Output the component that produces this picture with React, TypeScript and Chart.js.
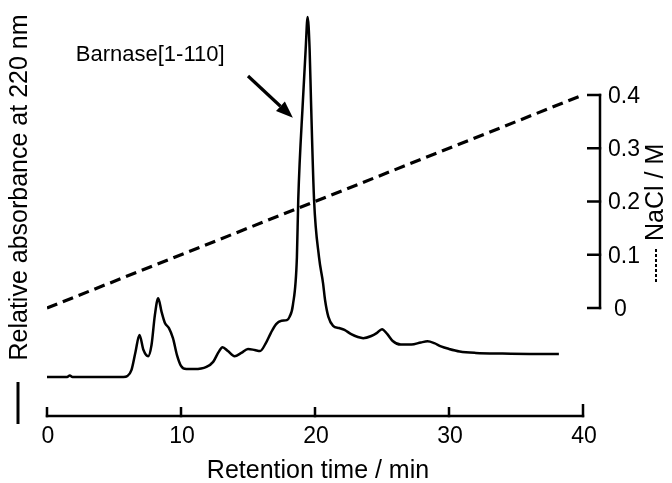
import React, { useEffect, useRef } from "react";
import { Chart, registerables } from "chart.js";

Chart.register(...registerables);

// Chromatogram (retention time in min, relative absorbance, baseline = 0, main apex = 1)
const retentionTime = [
  0, 1.5, 1.7, 1.9, 5.7, 6.0, 6.3, 6.6, 6.9, 7.2, 7.55, 7.8, 8.05, 8.3, 8.55, 8.8, 9.1, 9.4, 9.7,
  10.0, 10.4, 11.0, 11.9, 12.4, 12.8, 13.1, 13.5, 14.0, 14.5, 15.0, 15.5, 15.9, 16.3, 16.7, 17.1,
  17.5, 17.9, 18.1, 18.35, 18.65, 18.75, 19.1, 19.3, 19.45, 19.6, 19.7, 19.93, 20.3, 20.6, 20.75,
  21.0, 21.35, 21.8, 22.2, 22.7, 23.2, 23.6, 24.2, 24.6, 25.0, 25.4, 25.8, 26.4, 27.2, 27.9, 28.4,
  28.9, 29.4, 30.0, 30.8, 32.0, 34.0, 36.0, 38.2,
];
const absorbance = [
  0, 0, 0.004, 0, 0, 0.003, 0.019, 0.069, 0.117, 0.075, 0.058, 0.089, 0.172, 0.219, 0.181, 0.15,
  0.136, 0.108, 0.061, 0.031, 0.022, 0.022, 0.028, 0.042, 0.069, 0.083, 0.072, 0.058, 0.067, 0.078,
  0.075, 0.072, 0.092, 0.122, 0.147, 0.156, 0.158, 0.167, 0.2, 0.333, 0.492, 0.769, 0.908, 1.0,
  0.908, 0.769, 0.492, 0.333, 0.261, 0.214, 0.167, 0.142, 0.136, 0.131, 0.119, 0.111, 0.108, 0.114,
  0.122, 0.133, 0.119, 0.1, 0.09, 0.09, 0.096, 0.099, 0.094, 0.085, 0.078, 0.071, 0.067, 0.065,
  0.064, 0.064,
];

// NaCl gradient
const gradientTime = [0, 40];
const naclConc = [0, 0.4];

// Axis ticks and texts
const xTicks = [0, 10, 20, 30, 40];
const xTickLabels = ["0", "10", "20", "30", "40"];
const naclTicks = [0, 0.1, 0.2, 0.3, 0.4];
const naclTickLabels = ["0", "0.1", "0.2", "0.3", "0.4"];
const xTitle = "Retention time / min";
const yTitle = "Relative absorbance at 220 nm";
const y1Title = "NaCl / M";
const peakLabel = "Barnase[1-110]";
// annotation anchors in data units (time, absorbance)
const labelAnchor = [2.15, 0.878];
const arrowTail = [15.0, 0.836];
const arrowTip = [18.35, 0.72];

const FONT = "'Liberation Sans', Arial, Helvetica, sans-serif";

const decorPlugin = {
  id: "decor",
  afterDraw(chart: any) {
    const ctx = chart.ctx as CanvasRenderingContext2D;
    const x = chart.scales.x;
    const y = chart.scales.y;
    const y1 = chart.scales.y1;
    const area = chart.chartArea;
    ctx.save();
    ctx.strokeStyle = "#000";
    ctx.fillStyle = "#000";
    ctx.lineCap = "butt";
    ctx.setLineDash([]);

    // X axis line and inward ticks
    ctx.lineWidth = 2.5;
    const ay = area.bottom;
    ctx.beginPath();
    ctx.moveTo(x.getPixelForValue(xTicks[0]) - 1.2, ay);
    ctx.lineTo(x.getPixelForValue(xTicks[xTicks.length - 1]) + 1.2, ay);
    ctx.stroke();
    ctx.beginPath();
    xTicks.forEach((t, i) => {
      const px = x.getPixelForValue(t);
      const len = i === xTicks.length - 1 ? 12 : 9;
      ctx.moveTo(px, ay + 1.2);
      ctx.lineTo(px, ay - len);
    });
    ctx.stroke();

    // X tick labels
    ctx.font = `23px ${FONT}`;
    ctx.textAlign = "center";
    ctx.textBaseline = "alphabetic";
    xTicks.forEach((t, i) => {
      ctx.fillText(xTickLabels[i], x.getPixelForValue(t) + 1, ay + 27);
    });

    // X title
    ctx.font = `25px ${FONT}`;
    ctx.fillText(xTitle, (area.left + area.right) / 2 + 3, ay + 62);

    // Right NaCl axis bracket
    const rx = area.right + 17;
    const yTop = y1.getPixelForValue(naclTicks[naclTicks.length - 1]);
    const yBot = y1.getPixelForValue(naclTicks[0]);
    ctx.lineWidth = 2.5;
    ctx.beginPath();
    ctx.moveTo(rx, yTop - 1.2);
    ctx.lineTo(rx, yBot + 1.2);
    ctx.stroke();
    ctx.beginPath();
    naclTicks.forEach((v) => {
      const py = y1.getPixelForValue(v);
      ctx.moveTo(rx - 13, py);
      ctx.lineTo(rx + 1.2, py);
    });
    ctx.stroke();

    // Right tick labels
    ctx.font = `23px ${FONT}`;
    ctx.textAlign = "left";
    naclTicks.forEach((v, i) => {
      const py = y1.getPixelForValue(v);
      const dx = naclTickLabels[i] === "0" ? 14 : 8;
      ctx.fillText(naclTickLabels[i], rx + dx, py + 8);
    });

    // Right title (rotated), with dashed legend mark
    ctx.save();
    ctx.translate(663, 241);
    ctx.rotate(-Math.PI / 2);
    ctx.font = `25px ${FONT}`;
    ctx.textAlign = "left";
    ctx.fillText(y1Title, 0, 0);
    ctx.restore();
    ctx.save();
    ctx.lineWidth = 2;
    ctx.setLineDash([3, 2]);
    ctx.beginPath();
    ctx.moveTo(656, 282);
    ctx.lineTo(656, 247);
    ctx.stroke();
    ctx.restore();

    // Left title (rotated) with solid legend mark
    ctx.save();
    ctx.translate(27, (area.top + 365) / 2);
    ctx.rotate(-Math.PI / 2);
    ctx.font = `25px ${FONT}`;
    ctx.textAlign = "center";
    ctx.fillText(yTitle, 0, 0);
    ctx.restore();
    ctx.lineWidth = 3;
    ctx.beginPath();
    ctx.moveTo(18, 382);
    ctx.lineTo(18, 424);
    ctx.stroke();

    // Peak annotation
    ctx.font = `22px ${FONT}`;
    ctx.textAlign = "left";
    ctx.fillText(peakLabel, x.getPixelForValue(labelAnchor[0]), y.getPixelForValue(labelAnchor[1]));
    const tx = x.getPixelForValue(arrowTail[0]);
    const ty = y.getPixelForValue(arrowTail[1]);
    const hx = x.getPixelForValue(arrowTip[0]);
    const hy = y.getPixelForValue(arrowTip[1]);
    const ang = Math.atan2(hy - ty, hx - tx);
    const headLen = 17;
    const headW = 6.5;
    const bx = hx - headLen * Math.cos(ang);
    const by = hy - headLen * Math.sin(ang);
    ctx.lineWidth = 3.2;
    ctx.beginPath();
    ctx.moveTo(tx, ty);
    ctx.lineTo(bx, by);
    ctx.stroke();
    ctx.beginPath();
    ctx.moveTo(hx, hy);
    ctx.lineTo(bx + headW * Math.sin(ang), by - headW * Math.cos(ang));
    ctx.lineTo(bx - headW * Math.sin(ang), by + headW * Math.cos(ang));
    ctx.closePath();
    ctx.fill();

    ctx.restore();
  },
};

export default function App() {
  const canvasRef = useRef<HTMLCanvasElement | null>(null);

  useEffect(() => {
    const canvas = canvasRef.current;
    if (!canvas) return;
    const chromData = retentionTime.map((t, i) => ({ x: t, y: absorbance[i] }));
    const gradData = gradientTime.map((t, i) => ({ x: t, y: naclConc[i] }));
    const chart = new Chart(canvas, {
      type: "line",
      data: {
        datasets: [
          {
            label: "A220",
            data: chromData,
            yAxisID: "y",
            borderColor: "#000",
            borderWidth: 2.5,
            pointRadius: 0,
            cubicInterpolationMode: "monotone",
            fill: false,
          },
          {
            label: "NaCl",
            data: gradData,
            yAxisID: "y1",
            borderColor: "#000",
            borderWidth: 3.2,
            borderDash: [11, 6],
            pointRadius: 0,
            fill: false,
          },
        ],
      },
      options: {
        responsive: false,
        animation: false,
        devicePixelRatio: 1,
        layout: { padding: { left: 47, right: 89, top: 10, bottom: 67 } },
        plugins: { legend: { display: false }, tooltip: { enabled: false } },
        scales: {
          x: { type: "linear", min: 0, max: 40, display: false },
          y: { type: "linear", min: -0.1083, max: 1.0194, display: false },
          y1: { type: "linear", min: -0.2028, max: 0.5596, display: false },
        },
      },
      plugins: [decorPlugin],
    });
    return () => chart.destroy();
  }, []);

  return (
    <div style={{ position: "absolute", left: 0, top: 0, width: 672, height: 483, background: "#fff" }}>
      <canvas ref={canvasRef} width={672} height={483} style={{ width: 672, height: 483 }} />
    </div>
  );
}
